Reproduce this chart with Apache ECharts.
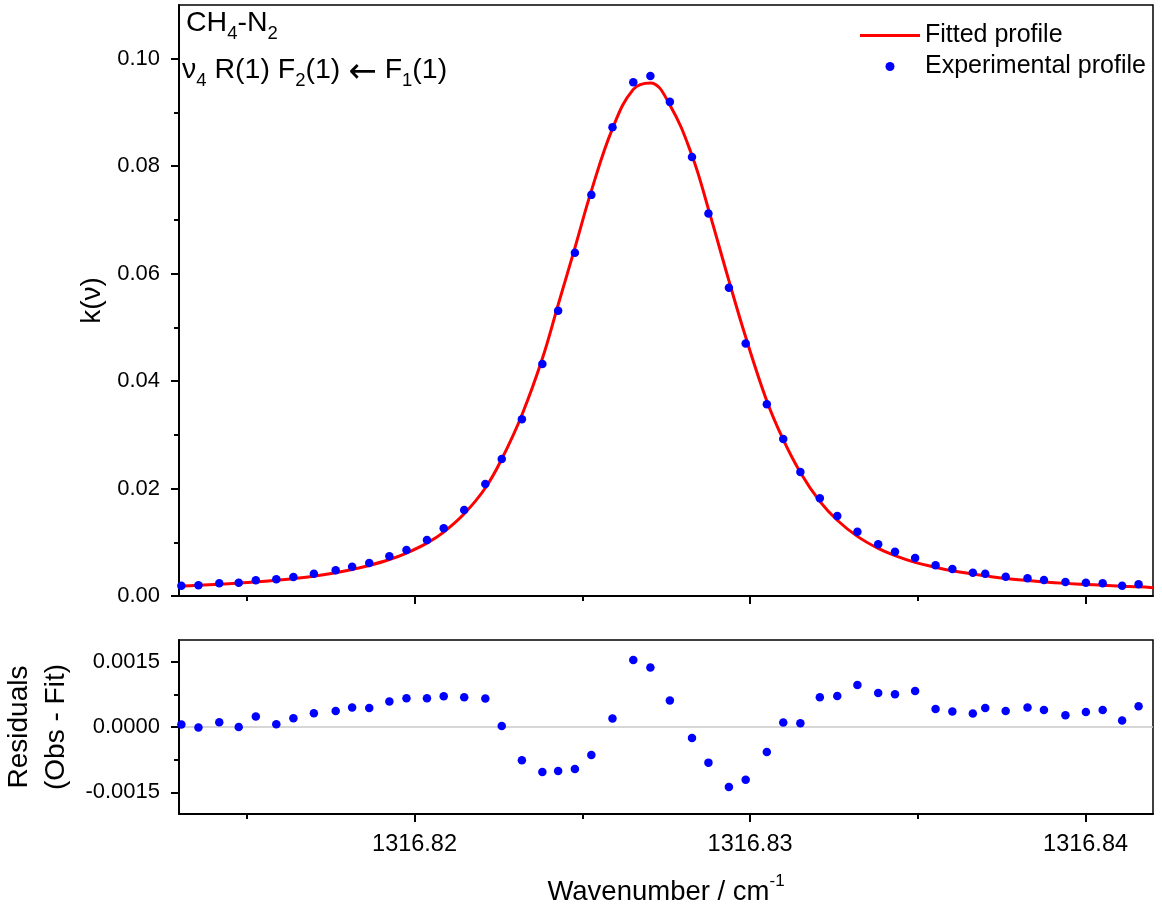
<!DOCTYPE html>
<html lang="en">
<head>
<meta charset="utf-8" />
<title>CH4-N2 line profile</title>
<style>
  * { margin: 0; padding: 0; box-sizing: border-box; }
  html, body { width: 100%; height: 100%; background: #fff; }
  #chart { width: 1162px; height: 908px; }
</style>
</head>
<body>
<div id="chart"></div>
<script src="https://cdn.jsdelivr.net/npm/echarts@6/dist/echarts.min.js"></script>
<script>
// measured points (wavenumber in cm-1)
const wavenumber = [
  1316.81305, 1316.81356, 1316.81418, 1316.81476, 1316.81527, 1316.81588, 1316.81639, 1316.81700,
  1316.81765, 1316.81814, 1316.81865, 1316.81925, 1316.81976, 1316.82037, 1316.82087, 1316.82148,
  1316.82211, 1316.82260, 1316.82320, 1316.82381, 1316.82428, 1316.82478, 1316.82527, 1316.82590,
  1316.82652, 1316.82703, 1316.82761, 1316.82827, 1316.82876, 1316.82937, 1316.82987, 1316.83050,
  1316.83099, 1316.83150, 1316.83208, 1316.83260, 1316.83320, 1316.83382, 1316.83432, 1316.83492,
  1316.83553, 1316.83603, 1316.83664, 1316.83701, 1316.83762, 1316.83827, 1316.83876, 1316.83940,
  1316.84001, 1316.84051, 1316.84109, 1316.84158
]
const experimental = [
  0.00192, 0.00199, 0.00236, 0.00247, 0.00292, 0.00311, 0.00353, 0.00415,
  0.00478, 0.00545, 0.00614, 0.00739, 0.00856, 0.01042, 0.01260, 0.01600,
  0.02084, 0.02549, 0.03290, 0.04320, 0.05308, 0.06387, 0.07466, 0.08726,
  0.09563, 0.09680, 0.09197, 0.08173, 0.07120, 0.05736, 0.04701, 0.03570,
  0.02920, 0.02310, 0.01820, 0.01488, 0.01196, 0.00962, 0.00824, 0.00707,
  0.00571, 0.00502, 0.00434, 0.00415, 0.00359, 0.00329, 0.00298, 0.00260,
  0.00247, 0.00236, 0.00192, 0.00218
]
const residuals = [
  0.000055, -0.000014, 0.000108, 0.000000, 0.000239, 0.000062, 0.000200, 0.000315,
  0.000368, 0.000446, 0.000437, 0.000584, 0.000660, 0.000660, 0.000706, 0.000683,
  0.000653, 0.000023, -0.000766, -0.001035, -0.001012, -0.000966, -0.000644, 0.000193,
  0.001541, 0.001367, 0.000607, -0.000253, -0.000819, -0.001380, -0.001210, -0.000575,
  0.000101, 0.000085, 0.000683, 0.000713, 0.000966, 0.000782, 0.000752, 0.000828,
  0.000414, 0.000354, 0.000308, 0.000437, 0.000368, 0.000446, 0.000391, 0.000269,
  0.000345, 0.000391, 0.000147, 0.000476
]
// fitted curve, read at the edges of the plot and at each measured wavenumber
const fitEdges = [1316.81298, 1316.84201]
const fitted = [
  0.00182,
  0.00185, 0.00199, 0.00219, 0.00240, 0.00262, 0.00292, 0.00323, 0.00368,
  0.00431, 0.00492, 0.00568, 0.00679, 0.00800, 0.00985, 0.01190, 0.01530,
  0.02010, 0.02550, 0.03370, 0.04420, 0.05420, 0.06480, 0.07540, 0.08700,
  0.09430, 0.09550, 0.09140, 0.08200, 0.07200, 0.05870, 0.04820, 0.03630,
  0.02910, 0.02300, 0.01760, 0.01410, 0.01110, 0.00885, 0.00750, 0.00625,
  0.00535, 0.00470, 0.00408, 0.00375, 0.00325, 0.00287, 0.00262, 0.00235,
  0.00215, 0.00200, 0.00182, 0.00172,
  0.00155
]
const xMajorTicks = [1316.82, 1316.83, 1316.84]
const xMinorTicks = [1316.815, 1316.825, 1316.835]
const kTicks = [0, 0.02, 0.04, 0.06, 0.08, 0.10]
const kMinorTicks = [0.01, 0.03, 0.05, 0.07, 0.09]
const residTicks = [-0.0015, 0, 0.0015]
const residMinorTicks = [-0.00075, 0.00075]

const FONT = "'Liberation Sans', Arial, 'DejaVu Sans', sans-serif"
const X_MIN = fitEdges[0]
const X_MAX = fitEdges[1]
const BLACK = '#000'
const axisLine = { show: true, onZero: false, lineStyle: { color: BLACK, width: 2 } }
const noLine = { show: false, onZero: false }

function ticks(values, length) {
    return { show: true, customValues: values, length: length, lineStyle: { color: BLACK, width: 2 } }
}

function xAxes(gridIndex, withLabels) {
    const main = {
        type: 'value', gridIndex: gridIndex, position: 'bottom',
        min: X_MIN, max: X_MAX,
        axisLine: axisLine,
        axisTick: ticks(xMajorTicks, 8),
        axisLabel: { show: false },
        splitLine: { show: false },
    }
    if (withLabels) {
        main.axisLabel = {
            show: true, customValues: xMajorTicks, margin: 19,
            formatter: (v) => v.toFixed(2),
            color: BLACK, fontSize: 23.5, fontFamily: FONT,
        }
        main.name = '{a|Wavenumber / cm}{b|-1}'
        main.nameLocation = 'middle'
        main.nameGap = 59
        main.nameTextStyle = {
            rich: {
                a: { fontSize: 27.5, fontFamily: FONT, color: BLACK, lineHeight: 28, verticalAlign: 'top', padding: [5, 0, 0, 0] },
                b: { fontSize: 17, fontFamily: FONT, color: BLACK, lineHeight: 17, verticalAlign: 'top' },
            },
        }
    }
    const minor = {
        type: 'value', gridIndex: gridIndex, position: 'bottom',
        min: X_MIN, max: X_MAX,
        axisLine: noLine,
        axisTick: ticks(xMinorTicks, 5),
        axisLabel: { show: false },
        splitLine: { show: false },
    }
    return [main, minor]
}

function yAxes(gridIndex, min, max, major, minorVals, digits, name, nameGap, nameStyle) {
    return [
        {
            type: 'value', gridIndex: gridIndex, position: 'left',
            min: min, max: max,
            axisLine: axisLine,
            axisTick: ticks(major, 8),
            axisLabel: {
                show: true, customValues: major, margin: 19,
                formatter: (v) => v.toFixed(digits),
                color: BLACK, fontSize: 22, fontFamily: FONT,
            },
            splitLine: { show: false },
            name: name,
            nameLocation: 'middle',
            nameRotate: 90,
            nameGap: nameGap,
            nameTextStyle: nameStyle,
        },
        {
            type: 'value', gridIndex: gridIndex, position: 'left',
            min: min, max: max,
            axisLine: noLine,
            axisTick: ticks(minorVals, 5),
            axisLabel: { show: false },
            splitLine: { show: false },
        },
    ]
}

const chart = echarts.init(document.getElementById('chart'), null, { renderer: 'canvas' })

const richNormal = { fontSize: 28.5, fontFamily: FONT, fill: BLACK, lineHeight: 28, verticalAlign: 'top' }
const richSub = { fontSize: 18.5, fontFamily: FONT, fill: BLACK, lineHeight: 18, verticalAlign: 'top', padding: [15, 0, 0, 0] }
const richArrow = { fontSize: 34, fontFamily: "'DejaVu Sans', sans-serif", fill: BLACK, lineHeight: 28, verticalAlign: 'top' }

chart.setOption({
    animation: false,
    backgroundColor: '#fff',
    grid: [
        { left: 179, right: 9, top: 5, height: 591, show: true, borderColor: BLACK, borderWidth: 1.5, outerBoundsMode: 'none' },
        { left: 179, right: 9, top: 640, height: 174, show: true, borderColor: BLACK, borderWidth: 1.5, outerBoundsMode: 'none' },
    ],
    xAxis: xAxes(0, false).concat(xAxes(1, true)),
    yAxis: yAxes(0, 0, 0.11, kTicks, kMinorTicks, 2, 'k(ν)', 70,
        { fontSize: 28, fontFamily: FONT, color: BLACK })
        .concat(yAxes(1, -0.002, 0.002, residTicks, residMinorTicks, 4, 'Residuals\n(Obs - Fit)', 99,
        { fontSize: 28, fontFamily: FONT, color: BLACK, lineHeight: 37 })),
    legend: {
        data: [
            { name: 'Fitted profile', icon: 'path://M0 0 H60 V3 H0 Z' },
            { name: 'Experimental profile', icon: 'circle' },
        ],
        orient: 'vertical',
        left: 855,
        top: 18,
        itemWidth: 60,
        itemHeight: 9,
        itemGap: 6,
        selectedMode: false,
        textStyle: { fontSize: 25, fontFamily: FONT, color: BLACK },
    },
    graphic: [
        {
            type: 'text', left: 186, top: 9,
            style: { text: '{n|CH}{s|4}{n|-N}{s|2}', rich: { n: richNormal, s: richSub } },
        },
        {
            type: 'text', left: 182, top: 56,
            style: {
                text: '{n|ν}{s|4}{n| R(1) F}{s|2}{n|(1) }{a|←}{n| F}{s|1}{n|(1)}',
                rich: { n: richNormal, s: richSub, a: richArrow },
            },
        },
    ],
    series: [
        {
            name: 'Fitted profile',
            type: 'line',
            xAxisIndex: 0,
            yAxisIndex: 0,
            data: [X_MIN].concat(wavenumber, [X_MAX]).map((x, i) => [x, fitted[i]]),
            smooth: 0.4,
            symbol: 'none',
            lineStyle: { color: '#ff0000', width: 3 },
            itemStyle: { color: '#ff0000' },
            z: 2,
            silent: true,
        },
        {
            name: 'Experimental profile',
            type: 'scatter',
            xAxisIndex: 0,
            yAxisIndex: 0,
            data: wavenumber.map((x, i) => [x, experimental[i]]),
            symbolSize: 8.5,
            itemStyle: { color: '#0000ff', opacity: 1 },
            z: 3,
            silent: true,
        },
        {
            name: 'Residuals',
            type: 'scatter',
            xAxisIndex: 2,
            yAxisIndex: 2,
            data: wavenumber.map((x, i) => [x, residuals[i]]),
            symbolSize: 8.5,
            itemStyle: { color: '#0000ff', opacity: 1 },
            z: 3,
            silent: true,
            markLine: {
                silent: true,
                z: 1,
                symbol: 'none',
                label: { show: false },
                lineStyle: { color: '#c8c8c8', width: 1.5, type: 'solid' },
                data: [{ yAxis: 0 }],
            },
        },
    ],
})
</script>
</body>
</html>
